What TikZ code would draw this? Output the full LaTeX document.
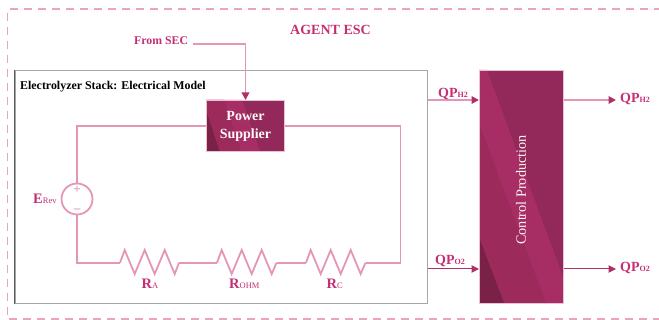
\documentclass[tikz,border=0pt]{standalone}
\usepackage{fontspec}
\setmainfont{Liberation Serif}
\usetikzlibrary{arrows.meta,calc}
\definecolor{wirepink}{HTML}{E596B7}
\definecolor{dashpink}{HTML}{EBA3C0}
\definecolor{textpink}{HTML}{C42F73}
\definecolor{headpink}{HTML}{AF2F68}
\definecolor{basedark}{HTML}{93295A}
\definecolor{bandlight}{HTML}{A62E64}
\definecolor{bandmid}{HTML}{9C2B5C}
\definecolor{banddark}{HTML}{7A2148}
\definecolor{rimpink}{HTML}{EBC0D3}
\definecolor{framegrey}{HTML}{A6A6A6}
\tikzset{
  x=1pt,y=-1pt,
  wire/.style={draw=wirepink,line width=1.8pt},
  flow/.style={wire,-{Triangle[length=7.5pt,width=7.5pt,color=headpink]}},
  flowdark/.style={draw=headpink,line width=1pt,-{Triangle[length=7.5pt,width=7.5pt,color=headpink]}},
  boxrim/.style={draw=rimpink,line width=1pt},
  lab/.style={font=\bfseries\fontsize{11.8}{13}\selectfont,text=textpink,inner sep=0pt},
  qp/.style={font=\bfseries\fontsize{14}{14}\selectfont,text=textpink,inner sep=0pt,anchor=base west},
  rr/.style={font=\bfseries\fontsize{14.5}{14}\selectfont,text=textpink,inner sep=0pt,anchor=base west},
}
\newcommand{\smalls}[1]{{\fontsize{8}{8}\selectfont #1}}
\newcommand{\smallr}[1]{{\fontsize{8.5}{8}\mdseries\selectfont #1}}
\begin{document}
\begin{tikzpicture}
\useasboundingbox (0,0) rectangle (659,320);
% outer dashed frame
\draw[dashpink,line width=1.5pt,dash pattern=on 8pt off 6pt] (662,9.2) -- (7.5,9.2) -- (7.5,319.2) -- (662,319.2);
% stack frame
\node[draw=framegrey,line width=1.2pt,minimum width=412.5pt,minimum height=233pt,inner sep=0pt,anchor=north west] (stack) at (14.5,70) {};
\draw[black!65,line width=1pt] (stack.north west) -- (stack.south west);
\node[anchor=base west,inner sep=0pt,font=\bfseries\fontsize{11.9}{13}\selectfont] (stacklab) at (20,90) {Electrolyzer Stack: Electrical Model};
% title
\node[lab,font=\bfseries\fontsize{14}{16}\selectfont,anchor=base] (agent) at (330.5,35) {AGENT ESC};
% power supplier
\fill[basedark] (206,100) rectangle (284,151);
\fill[bandlight] (206,100) -- (242,100) -- (260,151) -- (206,151) -- cycle;
\fill[bandmid] (206,100) -- (224,100) -- (241,151) -- (206,151) -- cycle;
\fill[banddark] (206,110) -- (219.5,151) -- (206,151) -- cycle;
\node[boxrim,minimum width=78pt,minimum height=51pt,inner sep=0pt,anchor=north west,align=center,text=white!92!pink,font=\bfseries\fontsize{14}{18}\selectfont] (power) at (206,100) {Power\\Supplier};
% control production
\fill[basedark] (479,70) rectangle (563,303);
\fill[bandlight] (487,70) -- (563,277) -- (563,303) -- (479,303) -- (479,70) -- cycle;
\fill[bandmid] (479,123) -- (546,303) -- (479,303) -- cycle;
\fill[banddark] (479,237) -- (504,303) -- (479,303) -- cycle;
\node[boxrim,minimum width=84pt,minimum height=233pt,inner sep=0pt,anchor=north west] (control) at (479,70) {};
\node[rotate=90,text=white!85!pink,font=\fontsize{14.2}{16}\selectfont,inner sep=0pt] (controllab) at (521,190) {Control Production};
% from SEC
\node[lab,anchor=base west] (sec) at (134,45) {From SEC};
\coordinate (secend) at (193,44);
\draw[flow] (secend) -| (power.north);
% circuit
\node[draw=wirepink,line width=1.8pt,circle,minimum size=31pt,inner sep=0pt] (src) at (77,199) {};
\node[text=wirepink,inner sep=0pt,font=\bfseries\fontsize{13}{13}\selectfont] (plus) at (77,189.5) {+};
\node[text=wirepink,inner sep=0pt,font=\bfseries\fontsize{13}{13}\selectfont] (minus) at (77,210.5) {\textendash};
\coordinate (tl) at (77,125.7);
\coordinate (tr) at (400.5,125.7);
\coordinate (bl) at (77,262.7);
\coordinate (br) at (400.5,262.7);
\coordinate (ra1) at (120,262.7);
\coordinate (ra2) at (179,262.7);
\coordinate (ro1) at (217,262.7);
\coordinate (ro2) at (276.5,262.7);
\coordinate (rc1) at (306,262.7);
\coordinate (rc2) at (365.5,262.7);
\draw[wire] (power.west |- tl) -- (tl) -- (src.north);
\draw[wire] (power.east |- tr) -- (tr) -- (br) -- (rc2);
\draw[wire] (src.south) -- (bl) -- (ra1);
\draw[wire] (ra2) -- (ro1);
\draw[wire] (ro2) -- (rc1);
\foreach \a/\b in {ra1/ra2,ro1/ro2,rc1/rc2}{
  \draw[wire,line join=miter] (\a) -- ++(4.7,-12.7) -- ++(10,24) -- ++(10,-24) -- ++(10,24) -- ++(10,-24) -- ++(10,24) -- (\b);
}
\node[rr] (elab) at (33,204) {E\smallr{Rev}};
\node[rr] (ralab) at (141.5,288.5) {R\smallr{A}};
\node[rr] (rolab) at (229,288.5) {R\smallr{OHM}};
\node[rr] (rclab) at (326.5,288.5) {R\smallr{C}};
% flows
\coordinate (h2in) at (stack.east |- 0,100);
\coordinate (o2in) at (stack.east |- 0,269);
\coordinate (h2out) at (616,100);
\coordinate (o2out) at (616,269);
\draw[flow] (h2in) -- (control.west |- h2in);
\draw[flowdark] (o2in) -- (control.west |- o2in);
\draw[flow] (control.east |- h2out) -- (h2out);
\draw[flowdark] (control.east |- o2out) -- (o2out);
\node[qp] (qh1) at (438,98) {QP\smalls{H2}};
\node[qp] (qo1) at (435,265) {QP\smalls{O2}};
\node[qp] (qh2) at (620,103) {QP\smalls{H2}};
\node[qp] (qo2) at (620,272) {QP\smalls{O2}};
\end{tikzpicture}
\end{document}
